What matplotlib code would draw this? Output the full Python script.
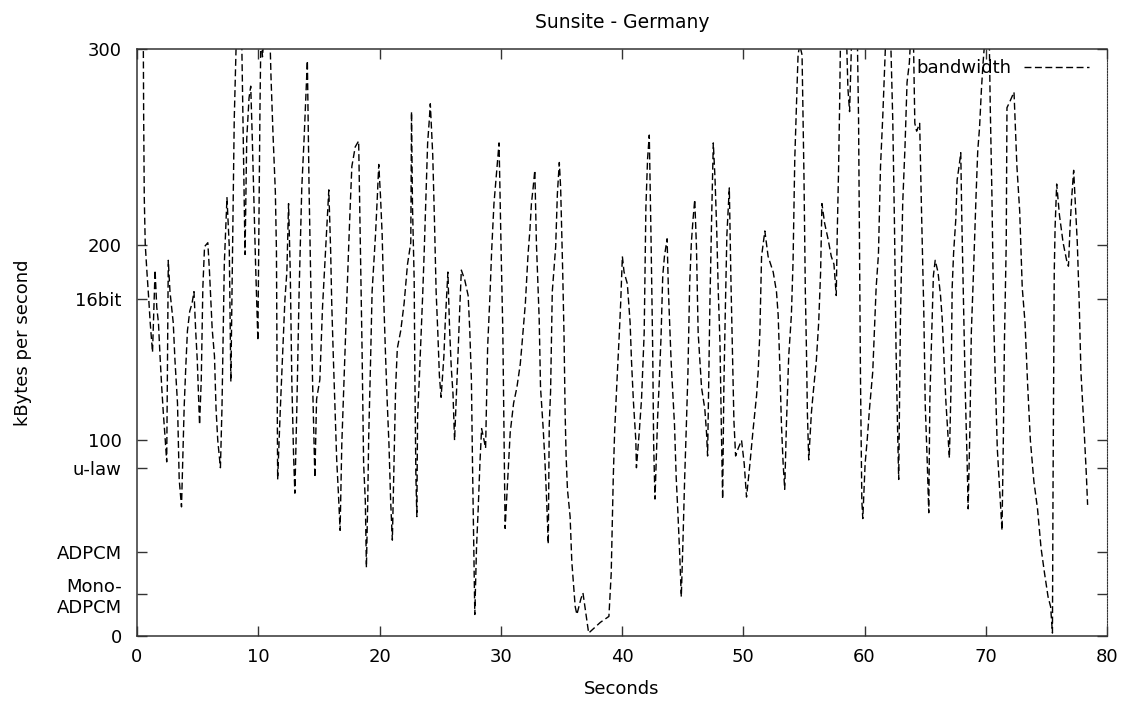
import matplotlib
matplotlib.use("Agg")
import matplotlib.pyplot as plt
from matplotlib.lines import Line2D

# Measured throughput (seconds, kBytes per second); values above 300 run off the top
seconds = [
    0.50, 0.55, 0.60, 0.68, 0.82, 0.95, 1.09, 1.28, 1.49, 1.63, 1.77, 1.90, 2.04, 2.17, 2.31, 2.45,
    2.58, 2.72, 2.99, 3.13, 3.34, 3.48, 3.67, 3.89, 4.02, 4.16, 4.35, 4.54, 4.70, 4.84, 4.97, 5.16,
    5.30, 5.43, 5.57, 5.84, 5.98, 6.20, 6.39, 6.52, 6.66, 6.88, 7.01, 7.20, 7.42, 7.61, 7.74, 7.88,
    8.02, 8.25, 8.60, 8.74, 8.91, 9.05, 9.24, 9.38, 9.51, 9.65, 9.78, 9.97, 10.05, 10.14, 10.22, 10.35,
    10.50, 10.95, 11.05, 11.22, 11.41, 11.50, 11.60, 11.82, 11.96, 12.20, 12.36, 12.50, 12.64, 12.77,
    12.91, 13.02, 13.18, 13.37, 13.59, 13.78, 13.94, 14.05, 14.19, 14.35, 14.48, 14.67, 14.81, 15.08,
    15.30, 15.49, 15.68, 15.82, 15.97, 16.06, 16.19, 16.33, 16.47, 16.61, 16.75, 16.89, 17.03, 17.17,
    17.31, 17.44, 17.58, 17.72, 18.00, 18.28, 18.42, 18.56, 18.69, 18.83, 18.92, 19.03, 19.11, 19.25,
    19.39, 19.67, 19.81, 19.94, 20.08, 20.22, 20.36, 20.50, 20.64, 20.78, 20.92, 21.06, 21.33, 21.47,
    21.75, 22.03, 22.31, 22.58, 22.64, 22.72, 22.86, 22.92, 23.00, 23.08, 23.14, 23.28, 23.56, 23.69,
    23.83, 23.97, 24.11, 24.19, 24.39, 24.53, 24.67, 24.81, 24.94, 25.08, 25.31, 25.42, 25.64, 25.78,
    25.92, 26.06, 26.19, 26.47, 26.61, 26.75, 27.03, 27.31, 27.44, 27.58, 27.67, 27.78, 27.86, 28.00,
    28.14, 28.28, 28.42, 28.56, 28.75, 28.92, 29.11, 29.25, 29.44, 29.67, 29.86, 30.03, 30.17, 30.28,
    30.36, 30.64, 30.78, 31.06, 31.33, 31.61, 31.75, 32.03, 32.25, 32.40, 32.53, 32.67, 32.81, 32.94,
    33.17, 33.28, 33.50, 33.64, 33.78, 33.92, 34.00, 34.11, 34.25, 34.53, 34.67, 34.83, 34.94, 35.11,
    35.22, 35.31, 35.39, 35.50, 35.72, 35.86, 36.14, 36.28, 36.61, 36.78, 37.25, 38.22, 38.92, 39.11,
    39.19, 39.28, 39.39, 39.56, 39.75, 39.89, 40.03, 40.17, 40.44, 40.67, 40.78, 40.94, 41.14, 41.19,
    41.42, 41.61, 41.83, 41.97, 42.11, 42.25, 42.39, 42.53, 42.61, 42.72, 42.94, 43.08, 43.22, 43.36,
    43.50, 43.72, 43.83, 44.06, 44.33, 44.47, 44.61, 44.75, 44.89, 45.03, 45.17, 45.31, 45.44, 45.58,
    45.72, 45.86, 46.00, 46.14, 46.28, 46.56, 46.83, 46.97, 47.06, 47.25, 47.39, 47.53, 47.67, 47.81,
    47.94, 48.08, 48.20, 48.30, 48.40, 48.52, 48.65, 48.85, 48.99, 49.10, 49.23, 49.37, 49.59, 49.86,
    50.08, 50.27, 50.55, 50.82, 51.10, 51.23, 51.37, 51.51, 51.78, 52.05, 52.47, 52.74, 52.88, 53.01,
    53.15, 53.29, 53.42, 53.56, 53.75, 53.97, 54.11, 54.25, 54.38, 54.52, 54.66, 54.85, 55.01, 55.12,
    55.21, 55.29, 55.40, 55.62, 55.75, 56.03, 56.22, 56.38, 56.49, 56.71, 56.99, 57.26, 57.48, 57.67,
    57.75, 57.86, 57.95, 58.03, 58.50, 58.63, 58.77, 58.96, 59.40, 59.51, 59.59, 59.67, 59.78, 59.86,
    60.05, 60.22, 60.41, 60.68, 60.96, 61.15, 61.32, 61.51, 61.64, 61.78, 62.14, 62.33, 62.47, 62.60,
    62.74, 62.82, 62.96, 63.15, 63.34, 63.51, 63.70, 63.84, 64.05, 64.15, 64.30, 64.55, 64.71, 64.89,
    65.01, 65.18, 65.30, 65.39, 65.53, 65.68, 65.83, 66.06, 66.27, 66.41, 66.56, 66.71, 66.85, 67.00,
    67.15, 67.23, 67.35, 67.53, 67.64, 67.82, 67.94, 68.02, 68.17, 68.32, 68.46, 68.55, 68.70, 68.81,
    68.99, 69.20, 69.34, 69.49, 69.64, 69.78, 69.99, 70.28, 70.37, 70.51, 70.66, 70.81, 70.95, 71.16,
    71.34, 71.45, 71.54, 71.69, 71.75, 71.98, 72.33, 72.57, 72.80, 73.01, 73.24, 73.45, 73.68, 73.97,
    74.27, 74.56, 74.85, 75.14, 75.35, 75.50, 75.55, 75.60, 75.65, 75.72, 75.85, 76.08, 76.38, 76.67,
    76.82, 76.96, 77.10, 77.25, 77.40, 77.55, 77.70, 77.85, 78.14, 78.30, 78.40,
]
kbytes = [
    330, 265, 224, 200, 186, 174, 160, 145, 187, 168, 160, 143, 127, 114, 102, 89,
    192, 176, 160, 141, 119, 80, 66, 117, 137, 156, 166, 170, 176, 156, 141, 108,
    131, 178, 199, 201, 186, 157, 143, 116, 100, 86, 117, 190, 224, 199, 130, 197,
    264, 320, 320, 263, 195, 254, 275, 281, 254, 221, 190, 151, 205, 269, 308, 296,
    310, 310, 286, 256, 227, 197, 80, 116, 137, 172, 186, 221, 186, 130,
    93, 73, 116, 176, 229, 254, 277, 294, 229, 176, 130, 81, 121, 131,
    168, 190, 213, 228, 197, 170, 143, 116, 90, 73, 54, 98, 123, 147,
    172, 196, 219, 240, 250, 253, 199, 147, 88, 69, 35, 69, 102, 137,
    176, 205, 223, 241, 225, 205, 170, 143, 119, 98, 69, 49, 127, 147,
    156, 170, 190, 201, 268, 220, 182, 131, 82, 61, 112, 131, 174, 197,
    225, 252, 264, 272, 246, 213, 176, 155, 133, 122, 143, 160, 186, 157,
    137, 124, 100, 143, 166, 187, 182, 174, 157, 131, 88, 45, 11, 45,
    65, 88, 106, 102, 96, 148, 174, 197, 221, 238, 252, 197, 156, 96,
    55, 88, 104, 119, 127, 139, 149, 170, 195, 207, 221, 229, 238, 201,
    162, 127, 106, 90, 70, 47, 108, 125, 176, 199, 226, 242, 229, 186,
    153, 114, 92, 75, 61, 38, 15, 11, 19, 22, 1.5, 7, 10, 32,
    55, 81, 104, 127, 151, 170, 194, 186, 180, 160, 141, 120, 100, 86,
    104, 121, 155, 219, 244, 256, 205, 147, 98, 70, 112, 131, 153, 184,
    194, 203, 176, 139, 108, 81, 63, 43, 20, 49, 81, 108, 135, 180,
    201, 213, 223, 199, 155, 127, 116, 104, 92, 170, 213, 252, 234, 208,
    176, 150, 104, 70, 127, 166, 205, 229, 180, 147, 110, 92, 96, 100,
    88, 71, 88, 106, 123, 135, 155, 194, 207, 194, 186, 176, 164, 139,
    108, 88, 75, 108, 143, 164, 192, 244, 270, 297, 302, 297, 234, 176,
    147, 114, 90, 114, 123, 141, 160, 186, 221, 211, 203, 194, 190, 174,
    205, 238, 272, 310, 310, 280, 268, 310, 310, 264, 197, 131, 69, 60,
    88, 100, 116, 135, 178, 195, 240, 266, 287, 310, 310, 264, 211, 147,
    102, 80, 160, 221, 250, 283, 293, 310, 300, 262, 258, 262, 215, 166,
    118, 88, 63, 121, 151, 184, 192, 186, 174, 162, 141, 120, 106, 91,
    131, 178, 196, 213, 233, 241, 247, 215, 168, 123, 90, 65, 108, 155,
    186, 225, 248, 260, 279, 293, 310, 310, 271, 225, 160, 127, 96, 73,
    54, 100, 150, 201, 270, 273, 278, 240, 217, 178, 160, 129, 100, 79,
    65, 45, 32, 20, 15, 1.5, 77, 127, 186, 209, 231, 215, 201, 192,
    189, 210, 225, 238, 220, 201, 172, 135, 102, 82, 67,
]

# Reference rates marked on the y axis (kBytes of 1024 bytes)
ytick_values = [0, 21.5, 43.1, 86.1, 100, 172.3, 200, 300]
ytick_labels = ["0", "Mono-\nADPCM", "ADPCM", "u-law", "100", "16bit", "200", "300"]
xtick_values = [0, 10, 20, 30, 40, 50, 60, 70, 80]

plt.rcParams["font.family"] = ["DejaVu Sans"]
plt.rcParams["font.size"] = 13
plt.rcParams["lines.scale_dashes"] = False

fig = plt.figure(figsize=(11.33, 7.02), dpi=100)
ax = fig.add_axes([137 / 1133, 1 - 636 / 702, 970 / 1133, 587 / 702])

dash = (0, (5, 2.5))
ax.plot(seconds, kbytes, color="black", lw=1.0, linestyle=dash)

ax.set_xlim(0, 80)
ax.set_ylim(0, 300)
ax.set_xticks(xtick_values)
ax.set_yticks(ytick_values)
ax.set_yticklabels(ytick_labels)

ax.tick_params(axis="both", which="both", direction="in", top=True, right=True,
               length=7, width=1.0, color="#333333", labelsize=13)
ax.tick_params(axis="y", pad=11)
ax.tick_params(axis="x", pad=9)

for side in ("left", "top", "bottom"):
    ax.spines[side].set_color("#333333")
    ax.spines[side].set_linewidth(1.1)
ax.spines["right"].set_linestyle((0, (1, 1)))
ax.spines["right"].set_linewidth(0.8)
ax.spines["right"].set_color("#333333")

ax.set_xlabel("Seconds", fontsize=13, labelpad=10)
ax.set_ylabel("kBytes per second", fontsize=13, labelpad=18)
ax.set_title("Sunsite - Germany", fontsize=13.5, pad=15)

ax.legend(handles=[Line2D([], [], color="black", lw=1.0, linestyle=dash)],
          labels=["bandwidth"], loc="upper right", bbox_to_anchor=(0.981, 0.983),
          frameon=False, markerfirst=False, handlelength=3.6, handletextpad=0.7,
          borderaxespad=0, borderpad=0, fontsize=13)

fig.savefig("out.png", dpi=100)
